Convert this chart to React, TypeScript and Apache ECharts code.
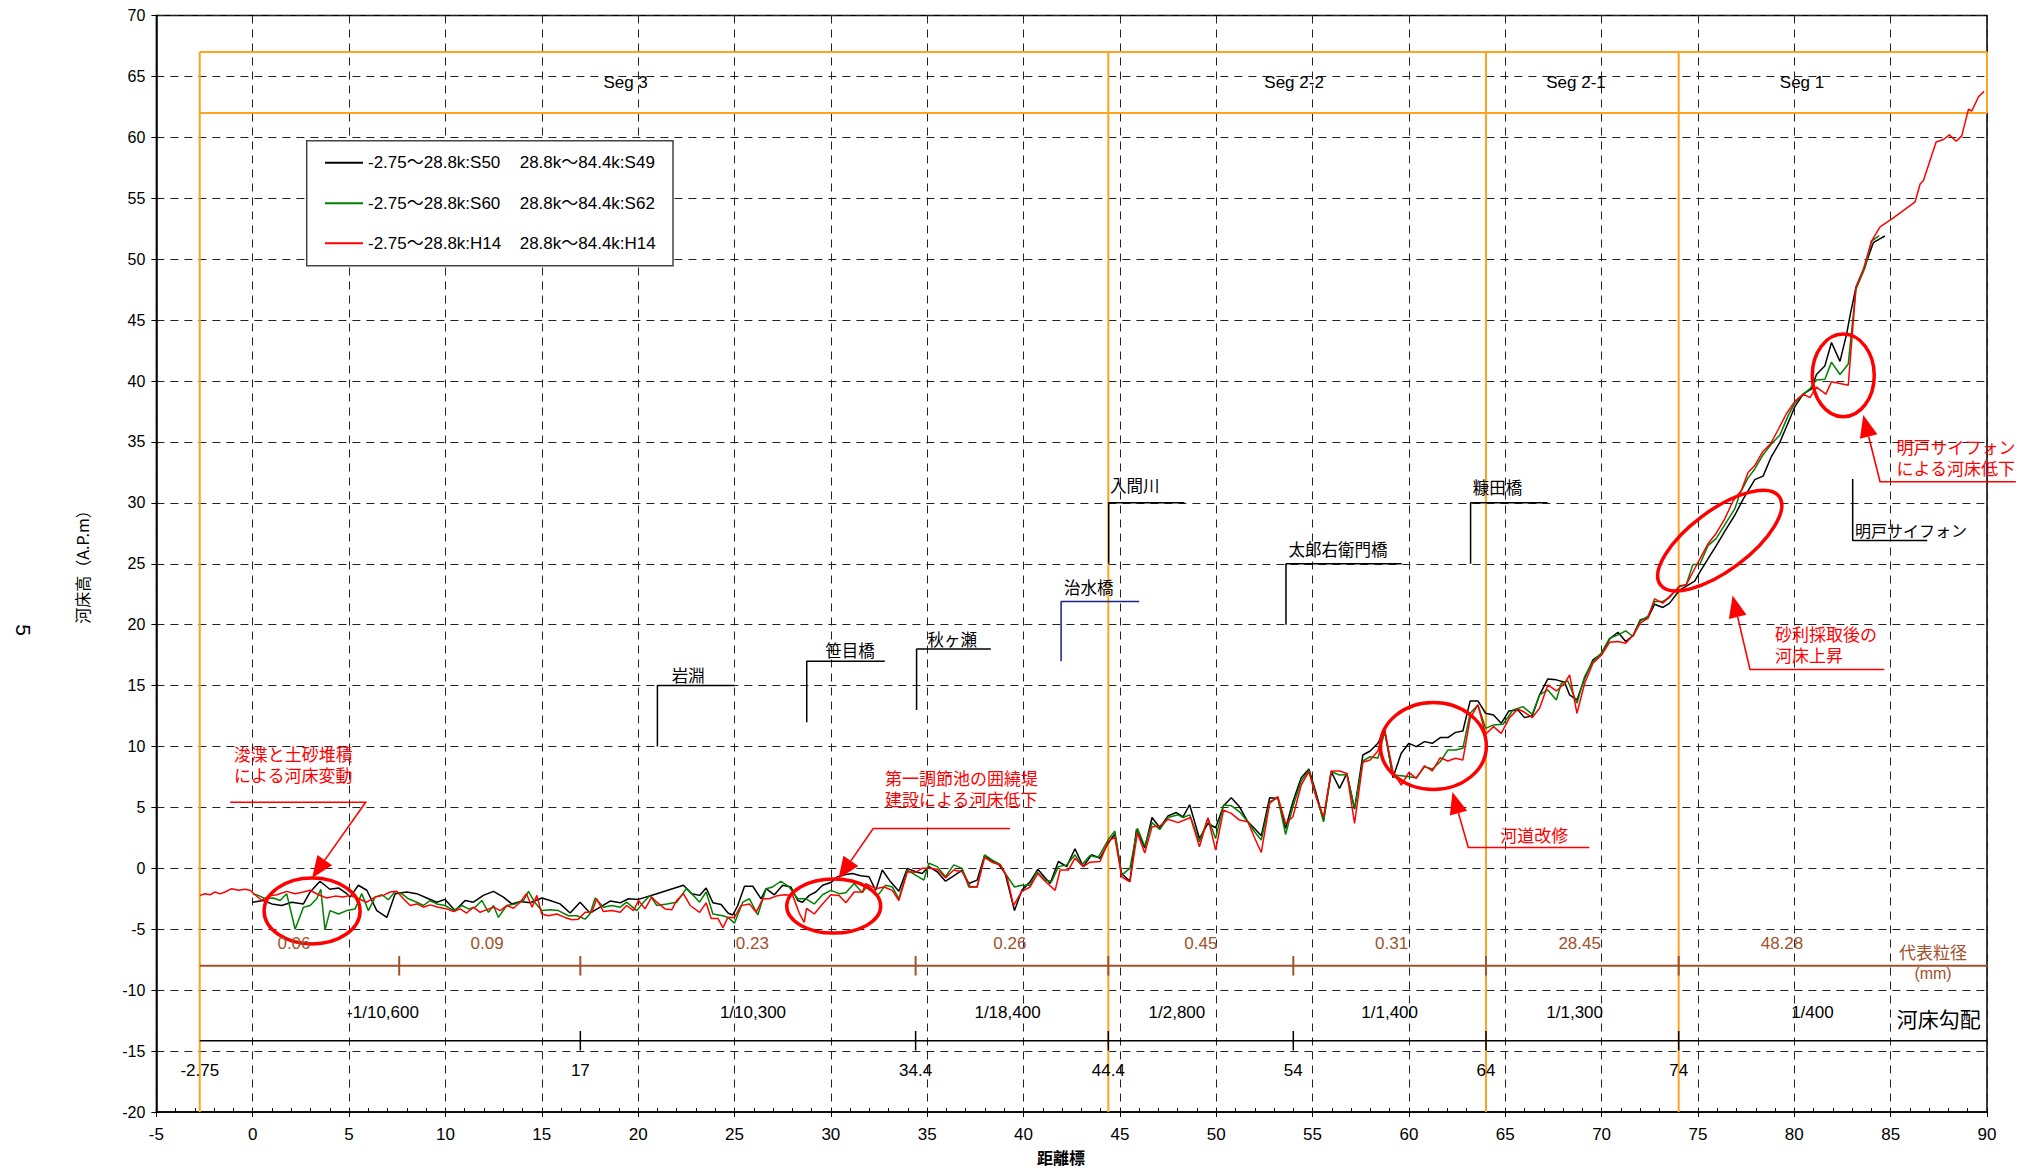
import React, { useEffect, useRef } from "react";
import * as echarts from "echarts";

const LAT = "'Liberation Sans', Arial, 'Noto Sans CJK JP', sans-serif";
const JP = "'Noto Sans CJK JP', 'Liberation Sans', sans-serif";
const ORANGE = "#FFA21F";
const BROWN = "#A0522D";
const RED = "#FF0000";
const GREEN = "#008000";

// S50 (-2.75~28.8k) / S49 (28.8k~84.4k)
const s50: [number, number][] = [
  [0,-2.78],[0.55,-2.64],[0.99,-2.92],[1.5,-3.05],[2.02,-2.78],[2.63,-2.92],[2.98,-1.94],[3.49,-1.06],[4.0,-1.72],[4.45,-1.61],[4.88,-2.08],[5.05,-2.36],[5.48,-1.39],[5.92,-1.8],[6.44,-3.47],[6.96,-4.03],[7.39,-2.08],[7.99,-1.94],[8.51,-2.08],[9.12,-2.5],[9.55,-2.78],[9.98,-2.55],[10.5,-3.47],[11.02,-2.64],[11.45,-2.78],[11.97,-2.22],[12.49,-1.89],[13.01,-2.36],[13.44,-2.92],[13.88,-2.72],[14.4,-2.83],[15.0,-2.44],[15.43,-2.64],[15.95,-2.92],[16.47,-3.67],[16.99,-2.78],[17.5,-3.67],[18.03,-3.19],[18.55,-2.69],[19.07,-2.83],[19.5,-2.5],[20.02,-2.55],[20.97,-2.08],[22.35,-1.39],[22.79,-2.08],
  [23.19,-2.22],[23.53,-1.61],[23.88,-2.83],[24.31,-2.97],[24.66,-3.67],[24.91,-3.83],[25.17,-3.06],[25.52,-1.47],[25.95,-1.47],[26.38,-2.5],[26.64,-1.67],[27.07,-2.17],[27.5,-1.39],[27.93,-1.53],[28.28,-2.64],[28.53,-2.78],[28.88,-2.22],[29.22,-1.94],[29.57,-1.39],[30.0,-1.17],[30.34,-0.69],[30.78,-0.5],[31.12,-0.42],[31.55,-0.61],[31.98,-0.69],[32.33,-1.81],[32.67,-0.14],[33.1,-1.11],[33.53,-1.89],[33.97,0.0],[34.4,-0.28],[34.74,-0.42],[35.09,0.14],[35.52,-0.28],[35.95,-1.06],[36.38,-0.61],[36.81,-0.14],[37.16,-1.25],[37.59,-0.97],[37.98,1.06],[38.36,0.56],[38.71,0.33],[39.05,-0.42],[39.53,-3.47],[39.91,-1.81],[40.34,-1.11],[40.74,-0.08],[41.12,-0.78],[41.38,-1.25],[41.81,0.56],[42.24,0.14],[42.67,1.61],[43.1,0.14],[43.53,1.11],[43.97,0.83],[44.4,2.08],[44.74,2.83],[45.09,-0.42],[45.52,-1.06],[45.86,3.19],[46.29,1.67],[46.67,4.17],[47.07,3.33],[47.5,4.31],[47.93,4.58],[48.28,4.22],[48.62,5.22],
  [49.13,2.45],[49.57,3.68],[49.97,3.33],[50.38,5.14],[50.78,5.79],[51.21,5.05],[51.64,3.82],[51.99,3.27],[52.34,2.67],[52.77,5.79],[53.2,5.74],[53.6,3.27],[53.98,5.47],[54.41,7.44],[54.81,8.15],[55.19,6.15],[55.57,3.96],[55.97,7.93],[56.4,6.56],[56.78,7.79],[57.18,4.86],[57.61,9.3],[57.99,9.63],[58.39,10.26],[58.74,11.36],[59.17,7.44],[59.6,9.44],[60.0,10.26],[60.38,9.99],[60.81,10.4],[61.21,10.26],[61.63,10.73],[62.02,10.73],[62.42,11.16],[62.8,11.27],[63.18,13.74],[63.58,13.74],[63.98,12.73],[64.39,12.59],[64.79,11.9],[65.19,12.92],[65.66,13.0],[66.0,12.37],[66.4,12.53],[66.78,14.23],[67.21,15.55],[67.65,15.47],[68.08,15.27],[68.34,14.23],[68.72,13.82],[69.12,15.6],[69.55,17.11],[69.98,17.58],[70.42,18.84],[70.85,19.38],[71.25,18.62],[71.63,19.11],[72.01,20.4],[72.4,20.53],[72.75,21.68],[73.18,21.41],[73.53,21.77],
  [74.05,22.84],[74.83,23.57],[75.09,24.3],[75.43,25.18],[75.95,26.49],[76.39,27.66],[76.91,28.98],[77.34,30.29],[77.95,31.9],[78.38,32.19],[78.81,33.8],[79.25,34.97],[79.68,36.58],[80.03,37.89],[80.46,38.92],[80.89,39.36],[81.15,40.53],[81.59,41.26],[81.93,43.16],[82.37,41.61],[82.72,43.89],[82.89,45.35],[83.2,47.69],[83.67,49.44],[84.1,51.35],[84.41,51.64],[84.7,51.9]
];

// S60 (-2.75~28.8k) / S62 (28.8k~84.4k)
const s60: [number, number][] = [
  [0,-2.08],[0.29,-2.22],[0.64,-2.5],[1.07,-2.44],[1.42,-2.64],[1.76,-2.08],[2.2,-5.0],[2.63,-3.19],[2.98,-3.05],[3.32,-2.5],[3.53,-1.72],[3.75,-5.05],[4.01,-3.47],[4.45,-3.75],[4.88,-3.47],[5.31,-3.33],[5.66,-2.08],[6.0,-3.47],[6.35,-2.36],[6.7,-2.17],[7.04,-2.58],[7.39,-1.89],[7.73,-2.08],[8.08,-2.5],[8.51,-2.78],[8.86,-3.05],[9.2,-2.64],[9.55,-2.92],[9.98,-3.05],[10.42,-3.47],[10.85,-3.05],[11.2,-3.33],[11.54,-3.19],[11.89,-2.64],[12.23,-3.61],[12.49,-3.05],[12.75,-4.03],[13.18,-3.05],[13.62,-2.92],[14.05,-2.64],[14.31,-1.89],[14.65,-2.83],[15.0,-3.47],[15.43,-3.39],[15.86,-3.47],[16.38,-3.89],[16.82,-3.89],[17.25,-4.17],[17.5,-3.75],[17.77,-2.44],[18.2,-3.19],[18.63,-3.05],[19.07,-3.19],[19.4,-2.78],[19.93,-3.47],[20.28,-2.78],[20.62,-2.22],[20.97,-3.05],[21.49,-2.92],[22.0,-2.78],[22.5,-1.67],[22.87,-2.22],
  [23.19,-2.78],[23.53,-1.94],[23.88,-3.75],[24.4,-3.89],[24.66,-4.03],[25.0,-4.5],[25.43,-2.78],[25.78,-2.5],[26.21,-3.83],[26.64,-1.67],[26.98,-1.53],[27.41,-1.06],[27.84,-1.53],[28.28,-2.5],[28.71,-2.5],[29.14,-2.92],[29.57,-2.17],[30.0,-1.81],[30.43,-2.08],[30.78,-2.0],[31.21,-1.25],[31.64,-2.0],[31.9,-1.39],[32.41,-2.28],[32.84,-1.39],[33.19,-1.53],[33.53,-2.5],[33.97,-0.14],[34.4,-0.56],[34.83,-0.97],[35.09,0.42],[35.52,0.14],[35.95,-0.69],[36.38,0.28],[36.81,0.0],[37.16,-1.53],[37.59,-1.53],[37.98,1.11],[38.36,0.69],[38.79,0.33],[39.05,-0.42],[39.53,-1.53],[39.91,-1.39],[40.34,-1.39],[40.69,-0.28],[41.12,-0.97],[41.47,-1.06],[41.81,0.14],[42.24,0.28],[42.67,1.11],[43.02,0.28],[43.45,1.06],[43.88,0.89],[44.4,2.36],[44.74,3.06],[45.09,-0.56],[45.52,0.0],[45.91,3.28],[46.29,1.81],[46.67,3.75],[47.07,3.19],[47.5,4.17],[48.02,4.39],[48.28,4.17],[48.62,4.39],
  [49.13,2.18],[49.57,4.1],[49.97,2.45],[50.38,5.19],[50.78,5.14],[51.21,4.64],[51.64,3.82],[51.99,3.0],[52.34,2.32],[52.77,5.47],[53.2,5.79],[53.6,2.78],[53.98,5.05],[54.41,7.16],[54.81,8.07],[55.19,5.96],[55.57,3.82],[55.97,7.93],[56.4,7.66],[56.78,7.71],[57.18,4.92],[57.61,8.81],[57.99,9.16],[58.39,9.03],[58.74,11.22],[59.17,7.66],[59.6,7.6],[60.0,7.52],[60.38,7.44],[60.81,8.34],[61.21,8.15],[61.63,8.75],[62.02,9.71],[62.42,9.71],[62.8,9.85],[63.18,12.73],[63.58,13.41],[63.98,11.49],[64.39,11.77],[64.88,11.82],[65.4,13.0],[65.92,13.27],[66.4,12.64],[66.78,14.23],[67.21,14.64],[67.65,13.82],[67.91,15.19],[68.25,15.38],[68.72,13.55],[69.12,15.74],[69.55,16.97],[69.98,17.66],[70.42,18.89],[70.85,19.16],[71.25,19.49],[71.63,19.03],[72.01,20.32],[72.4,20.68],[72.75,21.9],[73.18,21.9],[73.53,22.23],
  [74.05,23.19],[74.39,23.27],[74.74,24.94],[75.09,24.94],[75.52,26.49],[75.95,27.08],[76.47,28.39],[76.91,29.5],[77.17,30.73],[77.6,32.05],[77.95,32.78],[78.38,33.95],[78.81,34.82],[79.25,35.56],[79.68,37.16],[80.03,38.19],[80.46,38.92],[80.81,39.36],[81.15,40.09],[81.59,40.15],[81.93,41.55],[82.37,40.53],[82.8,41.4],[83.2,47.54],[83.67,49.3],[84.01,51.49],[84.41,51.93]
];

// H14
const h14: [number, number][] = [
  [-2.73,-2.22],[-2.47,-2.08],[-2.21,-2.17],[-1.95,-1.94],[-1.7,-2.1],[-1.44,-1.94],[-1.09,-1.67],[-0.74,-1.8],[-0.4,-1.72],[-0.14,-1.8],[0.12,-2.17],[0.47,-2.64],[0.81,-2.28],[1.25,-2.17],[1.76,-1.89],[2.2,-2.08],[2.63,-1.94],[2.98,-1.8],[3.41,-2.17],[3.84,-2.44],[4.27,-2.28],[4.7,-2.36],[5.05,-2.22],[5.48,-2.5],[5.92,-2.78],[6.35,-2.36],[6.78,-2.22],[7.13,-1.94],[7.47,-1.89],[7.82,-2.5],[8.17,-3.05],[8.51,-2.92],[8.86,-3.19],[9.2,-3.0],[9.64,-3.19],[10.07,-3.33],[10.42,-3.55],[10.76,-3.33],[11.1,-3.67],[11.45,-3.19],[11.8,-3.61],[12.15,-3.39],[12.5,-3.19],[12.84,-3.47],[13.18,-3.05],[13.53,-3.28],[13.88,-2.78],[14.2,-2.08],[14.5,-3.19],[14.74,-2.22],[15.0,-3.75],[15.34,-3.89],[15.78,-3.75],[16.2,-4.03],[16.56,-4.22],[16.9,-4.17],[17.25,-3.61],[17.6,-3.61],[17.85,-2.5],[18.2,-3.55],[18.63,-3.47],[19.07,-3.61],[19.4,-3.05],[19.76,-3.47],[20.02,-2.64],[20.36,-3.33],[20.7,-2.36],[20.97,-2.78],[21.4,-3.33],[21.75,-3.39],[22.0,-2.64],[22.35,-2.08],[22.7,-3.05],
  [23.19,-3.61],[23.53,-2.83],[23.79,-4.11],[24.14,-4.11],[24.4,-4.86],[24.66,-4.03],[25.0,-4.03],[25.34,-3.06],[25.78,-2.92],[26.12,-3.61],[26.47,-2.5],[26.81,-2.5],[27.16,-2.28],[27.59,-2.17],[28.02,-2.22],[28.36,-3.67],[28.62,-4.44],[28.74,-3.28],[29.14,-3.75],[29.57,-2.92],[30.0,-2.17],[30.43,-2.22],[30.78,-2.83],[31.21,-1.94],[31.64,-1.94],[31.81,-1.25],[32.33,-1.67],[32.76,-1.53],[33.19,-1.81],[33.53,-2.64],[33.97,-0.28],[34.4,-0.33],[34.74,0.0],[35.09,0.0],[35.52,-0.08],[35.95,-0.78],[36.38,-0.14],[36.81,-0.28],[37.24,-1.53],[37.59,-1.53],[37.98,0.89],[38.36,0.5],[38.79,0.28],[39.14,-0.69],[39.48,-3.06],[39.91,-1.89],[40.34,-1.53],[40.74,-0.42],[41.12,-1.06],[41.64,-1.81],[41.9,-0.14],[42.33,-0.14],[42.67,0.83],[43.1,0.14],[43.45,0.5],[43.97,0.56],[44.4,2.22],[44.74,2.56],[45.09,-0.69],[45.52,-1.11],[45.91,2.92],[46.29,1.25],[46.67,3.42],[47.07,3.47],[47.5,4.03],[48.02,3.75],[48.67,4.17],
  [49.13,1.77],[49.57,4.15],[49.97,1.49],[50.38,4.78],[50.78,4.51],[51.21,3.96],[51.64,3.82],[51.99,2.51],[52.34,1.3],[52.77,5.33],[53.2,5.88],[53.6,3.68],[53.98,4.23],[54.41,6.84],[54.81,7.93],[55.19,5.79],[55.57,4.23],[55.97,7.99],[56.4,7.99],[56.78,7.79],[57.18,3.68],[57.61,8.7],[57.99,8.89],[58.39,9.63],[58.74,11.36],[59.17,7.93],[59.6,6.84],[60.0,7.88],[60.38,7.38],[60.81,8.42],[61.21,7.99],[61.63,9.08],[62.02,8.81],[62.42,9.03],[62.8,8.89],[63.18,12.32],[63.58,13.41],[63.98,11.0],[64.39,11.63],[64.79,11.08],[65.22,12.37],[65.66,13.08],[66.0,12.81],[66.4,12.37],[66.78,13.14],[67.21,15.05],[67.65,14.56],[68.08,15.19],[68.34,15.88],[68.72,12.73],[69.12,15.19],[69.55,16.84],[69.98,17.47],[70.42,18.56],[70.85,18.62],[71.25,18.48],[71.63,19.11],[72.01,20.12],[72.4,20.53],[72.75,22.12],[73.18,21.77],[73.53,22.32],
  [74.05,23.13],[74.39,23.27],[74.83,24.59],[75.17,25.61],[75.52,26.64],[75.95,27.51],[76.39,28.68],[76.82,30.15],[77.25,31.02],[77.6,32.49],[77.95,33.07],[78.38,34.24],[78.76,34.82],[79.16,36.0],[79.59,37.31],[80.03,38.33],[80.46,38.92],[80.81,38.63],[81.15,39.5],[81.64,38.92],[81.93,39.94],[82.37,39.8],[82.8,39.65],[83.2,47.69],[83.58,49.15],[84.01,51.49],[84.45,52.66],[85.14,53.39],[86.27,54.71],[86.53,56.17],[86.7,56.46],[87.36,59.62],[87.74,59.82],[88.05,60.2],[88.4,59.68],[88.69,60.12],[89.04,62.31],[89.21,62.16],[89.56,63.33],[89.85,63.77]
];

const legendLeft = ["-2.75～28.8k:S50", "-2.75～28.8k:S60", "-2.75～28.8k:H14"];
const legendRight = ["28.8k～84.4k:S49", "28.8k～84.4k:S62", "28.8k～84.4k:H14"];

const segBounds = [-2.75, 44.4, 64, 74];
const segLabels: [string, number][] = [["Seg 3", 19.35], ["Seg 2-2", 54.04], ["Seg 2-1", 68.67], ["Seg 1", 80.4]];
const grainTicks = [7.6, 17, 34.4, 44.4, 54, 64, 74];
const slopeTicks = [17, 34.4, 44.4, 54, 64, 74];
const grainLabels: [string, number][] = [["0.06", 2.14], ["0.09", 12.16], ["0.23", 25.93], ["0.26", 39.29], ["0.45", 49.2], ["0.31", 59.1], ["28.45", 68.86], ["48.28", 79.36]];
const slopeLabels: [string, number][] = [["-1/10,600", 6.76], ["1/10,300", 25.96], ["1/18,400", 39.17], ["1/2,800", 47.96], ["1/1,400", 59.0], ["1/1,300", 68.6], ["1/400", 80.94]];
const kmLabels: [string, number][] = [["-2.75", -2.75], ["17", 17], ["34.4", 34.4], ["44.4", 44.4], ["54", 54], ["64", 64], ["74", 74]];

const bridges: { name: string; path: [number, number][]; label: [number, number]; color: string }[] = [
  { name: "岩淵", path: [[21, 10], [21, 15], [25, 15]], label: [22.6, 15.9], color: "#000" },
  { name: "笹目橋", path: [[28.75, 12], [28.75, 17], [32.8, 17]], label: [31.0, 17.9], color: "#000" },
  { name: "秋ヶ瀬", path: [[34.45, 13], [34.45, 18], [38.3, 18]], label: [36.3, 18.8], color: "#000" },
  { name: "治水橋", path: [[41.95, 17], [41.95, 21.9], [46.0, 21.9]], label: [43.39, 23.1], color: "#1A237E" },
  { name: "入間川", path: [[44.42, 25], [44.42, 30], [48.35, 30]], label: [45.77, 31.45], color: "#000" },
  { name: "太郎右衛門橋", path: [[53.62, 20], [53.62, 25], [59.63, 25]], label: [56.32, 26.2], color: "#000" },
  { name: "糠田橋", path: [[63.2, 25], [63.2, 30], [67.2, 30]], label: [64.6, 31.3], color: "#000" },
  { name: "明戸サイフォン", path: [[83.03, 31.95], [83.03, 26.9], [86.9, 26.9]], label: [86.05, 27.76], color: "#000" }
];

// red notes: text lines (left/center anchor), leader line [end, corner, tip], ellipse [cx, cy, rx, ry, rot]
const notes: { lines: string[]; at: [number, number]; align: string; leader: [number, number][]; ellipse: [number, number, number, number, number] }[] = [
  { lines: ["浚渫と土砂堆積", "による河床変動"], at: [2.1, 9.45], align: "center", leader: [[-1.17, 5.43], [5.86, 5.43], [3.08, -0.8]], ellipse: [3.08, -3.5, 48, 33, 0] },
  { lines: ["第一調節池の囲繞堤", "建設による河床低下"], at: [32.81, 7.45], align: "left", leader: [[39.3, 3.27], [32.2, 3.27], [30.39, -0.87]], ellipse: [30.15, -3.1, 47, 27, 0] },
  { lines: ["河道改修"], at: [66.5, 2.8], align: "center", leader: [[69.36, 1.71], [63.08, 1.71], [62.26, 6.27]], ellipse: [61.27, 10.04, 53, 43.5, 0] },
  { lines: ["砂利採取後の", "河床上昇"], at: [79.0, 19.28], align: "left", leader: [[84.67, 16.32], [77.7, 16.32], [76.8, 22.4]], ellipse: [76.13, 26.9, 74, 30, 0.64] },
  { lines: ["明戸サイフォン", "による河床低下"], at: [85.3, 34.66], align: "left", leader: [[91.5, 31.73], [84.45, 31.73], [83.58, 37.2]], ellipse: [82.54, 40.46, 31, 41.3, 0] }
];

function seg(data: [number, number][], color: string, width: number, z = 3) {
  return {
    type: "line", data, symbol: "none", silent: true, z, clip: false,
    lineStyle: { color, width }, emphasis: { disabled: true }
  };
}

export default function App() {
  const ref = useRef<HTMLDivElement>(null);
  useEffect(() => {
    document.body.style.margin = "0";
    const chart = echarts.init(ref.current!, null, { renderer: "svg" });
    const series: any[] = [];
    series.push({ name: "S50/S49", type: "line", data: s50, symbol: "none", lineStyle: { color: "#000", width: 1.5 }, z: 6, silent: true });
    series.push({ name: "S60/S62", type: "line", data: s60, symbol: "none", lineStyle: { color: GREEN, width: 1.5 }, z: 7, silent: true });
    series.push({ name: "H14", type: "line", data: h14, symbol: "none", lineStyle: { color: RED, width: 1.5 }, z: 8, silent: true });
    // segment boxes
    series.push(seg([[-2.75, 67], [90, 67]], ORANGE, 2));
    series.push(seg([[-2.75, 62], [90, 62]], ORANGE, 2));
    series.push(seg([[90, 67], [90, 62]], ORANGE, 2));
    segBounds.forEach((b) => series.push(seg([[b, 67], [b, -20]], ORANGE, 2)));
    // grain size band
    series.push(seg([[-2.75, -8], [90, -8]], BROWN, 2));
    grainTicks.forEach((t) => series.push(seg([[t, -7.2], [t, -8.8]], BROWN, 2)));
    // slope band
    series.push(seg([[-2.75, -14.15], [90, -14.15]], "#000", 1.5));
    slopeTicks.forEach((t) => series.push(seg([[t, -13.35], [t, -14.95]], "#000", 1.5)));
    // bridges
    bridges.forEach((b) => series.push(seg(b.path, b.color, 1.5)));

    chart.setOption({
      animation: false,
      backgroundColor: "#fff",
      grid: { left: 156.4, right: 40, top: 15.5, bottom: 59, show: true, borderColor: "#000", borderWidth: 1.5, backgroundColor: "transparent" },
      xAxis: [
        {
          type: "value", min: -5, max: 90, interval: 5, position: "bottom",
          axisLine: { show: true, onZero: false, lineStyle: { color: "#000", width: 1.5 } },
          axisTick: { show: true, length: 5, lineStyle: { color: "#000" } },
          axisLabel: { color: "#000", fontSize: 17, fontFamily: LAT, margin: 14 },
          splitLine: { show: true, lineStyle: { color: "#222", type: [8, 6], width: 1 } }
        },
        {
          type: "value", min: -5, max: 90, interval: 1, position: "bottom",
          axisLine: { show: false, onZero: false },
          axisTick: { show: true, inside: true, length: 4, lineStyle: { color: "#000" } },
          axisLabel: { show: false }, splitLine: { show: false }
        }
      ],
      yAxis: {
        type: "value", min: -20, max: 70, interval: 5,
        axisLine: { show: true, onZero: false, lineStyle: { color: "#000", width: 1.5 } },
        axisTick: { show: true, length: 5, lineStyle: { color: "#000" } },
        axisLabel: { color: "#000", fontSize: 16, fontFamily: LAT, margin: 11 },
        splitLine: { show: true, lineStyle: { color: "#222", type: [8, 6], width: 1 } }
      },
      series
    });

    const P = (x: number, y: number) => chart.convertToPixel({ seriesIndex: 0 }, [x, y]) as number[];
    const g: any[] = [];
    const text = (t: string, x: number, y: number, o: any = {}) => {
      g.push({
        type: "text", x, y, rotation: o.rotation || 0, z: 120,
        style: {
          text: t, fill: o.color || "#000", fontSize: o.size || 17, fontFamily: o.font || LAT,
          fontWeight: o.weight || "normal", align: o.align || "center", verticalAlign: "middle",
          textAlign: o.align || "center", textVerticalAlign: "middle"
        }
      });
    };
    segLabels.forEach(([t, x]) => { const p = P(x, 64.5); text(t, p[0], p[1], { size: 17 }); });
    grainLabels.forEach(([t, x]) => { const p = P(x, -6.2); text(t, p[0], p[1], { color: BROWN, size: 17 }); });
    slopeLabels.forEach(([t, x]) => { const p = P(x, -11.8); text(t, p[0], p[1], { size: 17 }); });
    kmLabels.forEach(([t, x]) => { const p = P(x, -16.6); text(t, p[0], p[1], { size: 17 }); });
    { const p = P(87.2, -6.85); text("代表粒径", p[0], p[1], { color: BROWN, size: 17, font: JP }); }
    { const p = P(87.2, -8.6); text("(mm)", p[0], p[1], { color: BROWN, size: 16 }); }
    { const p = P(87.5, -12.3); text("河床勾配", p[0], p[1], { size: 21, font: JP }); }
    bridges.forEach((b) => { const p = P(b.label[0], b.label[1]); text(b.name, p[0], p[1], { size: b.name.includes("サ") ? 16 : 16.5, font: JP }); });

    notes.forEach((n) => {
      const a = P(n.at[0], n.at[1]);
      n.lines.forEach((l, i) => text(l, a[0], a[1] + i * 21, { color: RED, size: 17, font: JP, align: n.align }));
      const pts = n.leader.map(([x, y]) => P(x, y));
      const tip = pts[2], c = pts[1];
      const dx = tip[0] - c[0], dy = tip[1] - c[1];
      const len = Math.hypot(dx, dy);
      const ux = dx / len, uy = dy / len;
      const L = 22, W = 9;
      const base = [tip[0] - ux * L, tip[1] - uy * L];
      g.push({ type: "polyline", z: 110, shape: { points: [pts[0], c, base] }, style: { stroke: RED, lineWidth: 1.6, fill: null } });
      g.push({ type: "polygon", z: 110, shape: { points: [tip, [base[0] - uy * W, base[1] + ux * W], [base[0] + uy * W, base[1] - ux * W]] }, style: { fill: RED } });
      const e = n.ellipse; const ep = P(e[0], e[1]);
      g.push({ type: "ellipse", z: 110, x: ep[0], y: ep[1], rotation: e[4], shape: { cx: 0, cy: 0, rx: e[2], ry: e[3] }, style: { fill: null, stroke: RED, lineWidth: 3.5 } });
    });

    const lx = 306.7, ly = 140.7;
    g.push({ type: "rect", z: 130, shape: { x: lx, y: ly, width: 366.3, height: 125 }, style: { fill: "#fff", stroke: "#444", lineWidth: 1.5 } });
    [["#000", 162.7], [GREEN, 203.3], [RED, 243.3]].forEach(([c, y], i) => {
      g.push({ type: "line", z: 131, shape: { x1: 325, y1: y as number, x2: 363, y2: y as number }, style: { stroke: c as string, lineWidth: 2 } });
      g.push({ type: "text", z: 131, x: 368, y: y as number, style: { text: legendLeft[i], fill: "#000", fontSize: 17, fontFamily: LAT, align: "left", verticalAlign: "middle", textAlign: "left", textVerticalAlign: "middle" } });
      g.push({ type: "text", z: 131, x: 519.7, y: y as number, style: { text: legendRight[i], fill: "#000", fontSize: 17, fontFamily: LAT, align: "left", verticalAlign: "middle", textAlign: "left", textVerticalAlign: "middle" } });
    });

    text("河床高（A.P.m）", 82, 563, { size: 16, font: JP, rotation: Math.PI / 2 });
    text("距離標", 1061, 1157, { size: 16, font: JP, weight: "bold" });
    text("5", 23, 630, { size: 21, rotation: -Math.PI / 2 });

    chart.setOption({ graphic: { elements: g } });
    return () => chart.dispose();
  }, []);
  return <div ref={ref} style={{ position: "absolute", left: 0, top: 0, width: 2027, height: 1171, background: "#fff" }} />;
}
